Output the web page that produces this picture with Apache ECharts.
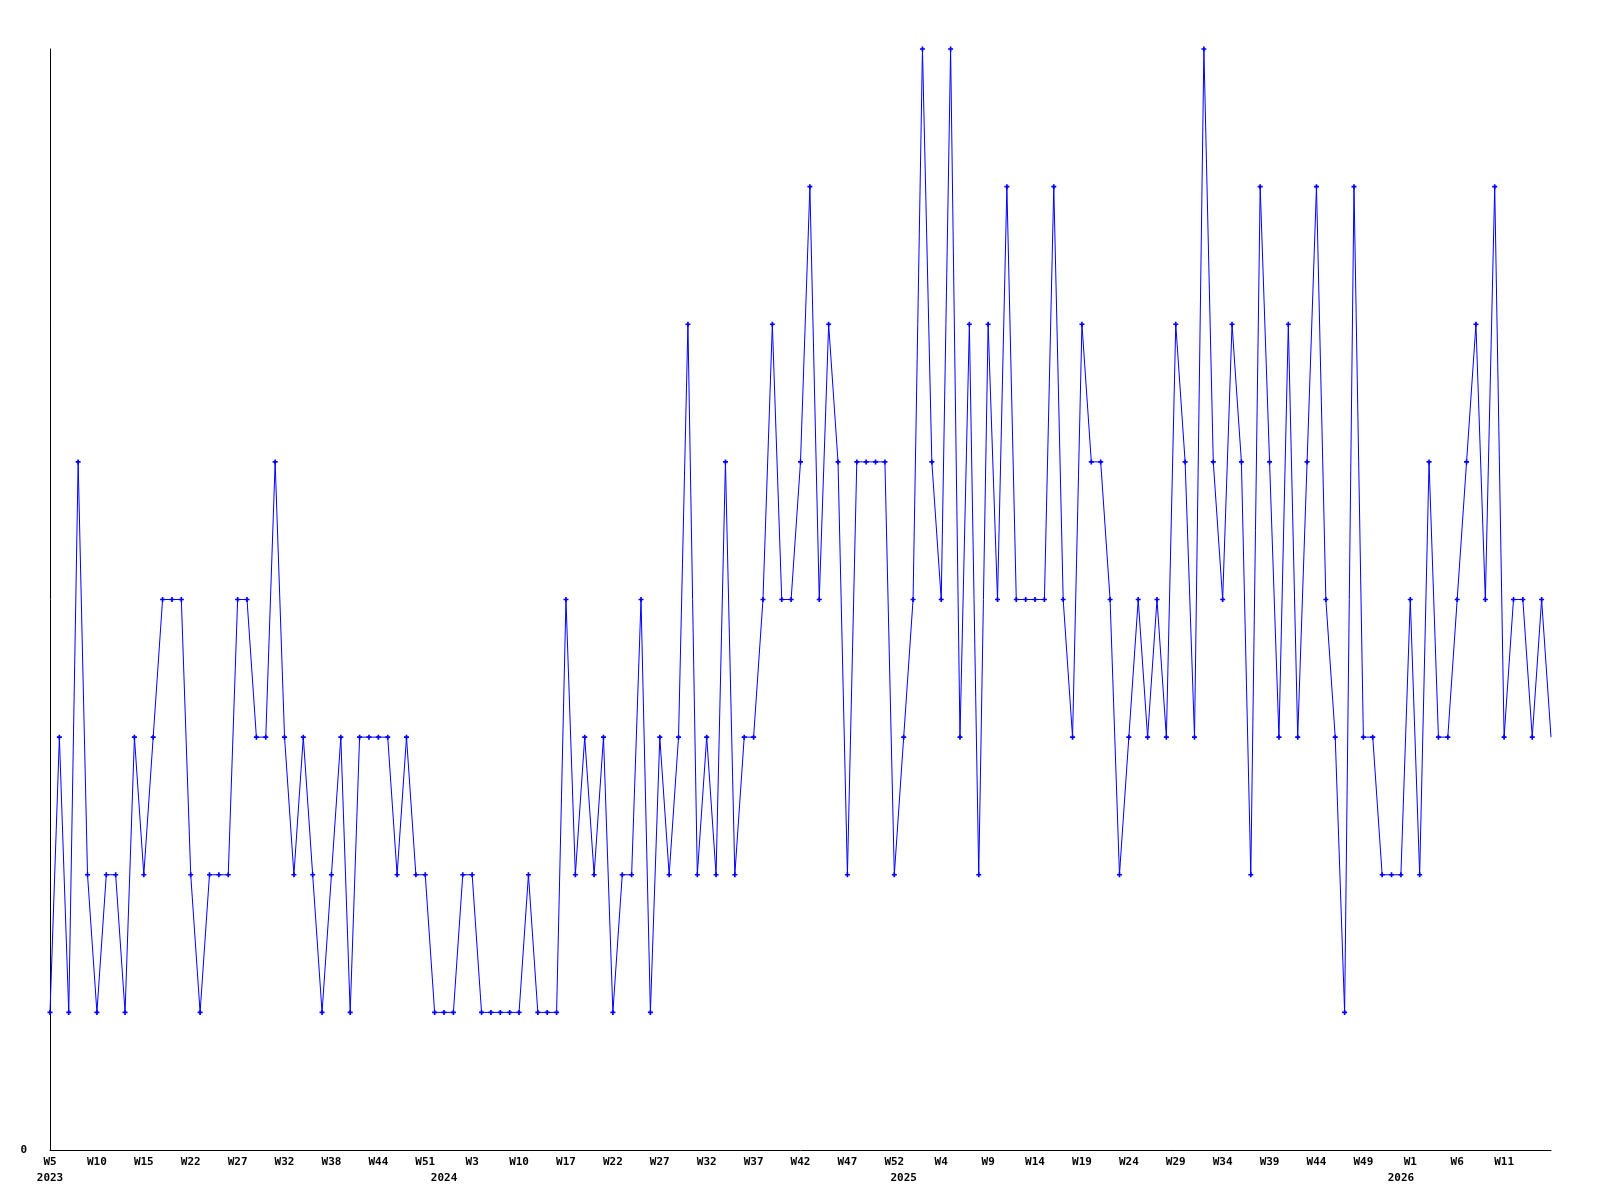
<!DOCTYPE html>
<html>
<head>
<meta charset="utf-8">
<title>weekly count</title>
<script src="https://cdn.jsdelivr.net/npm/echarts@6/dist/echarts.min.js"></script>
<style>
    html, body { margin: 0; padding: 0; background: #ffffff; }
    #chart { width: 1600px; height: 1200px; }
</style>
</head>
<body>
<div id="chart"></div>
<script>
// week of each point (sunday based week numbers, W0 = days before first sunday)
const weeks2023 = ['W5', 'W6', 'W7', 'W8', 'W9', 'W10', 'W11', 'W12', 'W13', 'W14',
    'W15', 'W16', 'W18', 'W19', 'W21', 'W22', 'W23', 'W24', 'W25', 'W26',
    'W27', 'W28', 'W29', 'W30', 'W31', 'W32', 'W33', 'W34', 'W36', 'W37',
    'W38', 'W39', 'W40', 'W42', 'W43', 'W44', 'W45', 'W47', 'W48', 'W50',
    'W51', 'W52']
const weeks2024 = ['W0', 'W1', 'W2', 'W3', 'W4', 'W6', 'W7', 'W9', 'W10', 'W11',
    'W13', 'W14', 'W16', 'W17', 'W18', 'W19', 'W20', 'W21', 'W22', 'W23',
    'W24', 'W25', 'W26', 'W27', 'W28', 'W29', 'W30', 'W31', 'W32', 'W33',
    'W34', 'W35', 'W36', 'W37', 'W38', 'W39', 'W40', 'W41', 'W42', 'W43',
    'W44', 'W45', 'W46', 'W47', 'W48', 'W49', 'W50', 'W51', 'W52']
const weeks2025 = ['W0', 'W1', 'W2', 'W3', 'W4', 'W5', 'W6', 'W7', 'W8', 'W9',
    'W10', 'W11', 'W12', 'W13', 'W14', 'W15', 'W16', 'W17', 'W18', 'W19',
    'W20', 'W21', 'W22', 'W23', 'W24', 'W25', 'W26', 'W27', 'W28', 'W29',
    'W30', 'W31', 'W32', 'W33', 'W34', 'W35', 'W36', 'W37', 'W38', 'W39',
    'W40', 'W41', 'W42', 'W43', 'W44', 'W45', 'W46', 'W47', 'W48', 'W49',
    'W50', 'W51', 'W52']
const weeks2026 = ['W0', 'W1', 'W2', 'W3', 'W4', 'W5', 'W6', 'W7', 'W8', 'W9',
    'W10', 'W11', 'W12', 'W13', 'W14', 'W15', 'W16']
const years = ['2023', '2024', '2025', '2026']

const counts = [1, 3, 1, 5, 2, 1, 2, 2, 1, 3,
    2, 3, 4, 4, 4, 2, 1, 2, 2, 2,
    4, 4, 3, 3, 5, 3, 2, 3, 2, 1,
    2, 3, 1, 3, 3, 3, 3, 2, 3, 2,
    2, 1, 1, 1, 2, 2, 1, 1, 1, 1,
    1, 2, 1, 1, 1, 4, 2, 3, 2, 3,
    1, 2, 2, 4, 1, 3, 2, 3, 6, 2,
    3, 2, 5, 2, 3, 3, 4, 6, 4, 4,
    5, 7, 4, 6, 5, 2, 5, 5, 5, 5,
    2, 3, 4, 8, 5, 4, 8, 3, 6, 2,
    6, 4, 7, 4, 4, 4, 4, 7, 4, 3,
    6, 5, 5, 4, 2, 3, 4, 3, 4, 3,
    6, 5, 3, 8, 5, 4, 6, 5, 2, 7,
    5, 3, 6, 3, 5, 7, 4, 3, 1, 7,
    3, 3, 2, 2, 2, 4, 2, 5, 3, 3,
    4, 5, 6, 4, 7, 3, 4, 4, 3, 4,
    3]

let categories = []
let yearStart = {}
;[weeks2023, weeks2024, weeks2025, weeks2026].forEach((list, k) => {
    yearStart[categories.length] = years[k]
    list.forEach(w => categories.push(years[k] + ' ' + w))
})

const plus = 'path://M0,2H6V4H0Z M2,0H4V6H2Z'
const last = counts.length - 1
// the last week is still running: no marker, no label
let seriesData = counts.map((v, i) => i === last ? { value: v, symbol: 'none' } : v)

let myChart = echarts.init(document.getElementById('chart'))
let option = {
    animation: false,
    backgroundColor: '#FFFFFF',
    grid: {
        left: 50,
        right: 49,
        top: 49,
        bottom: 50
    },
    xAxis: {
        type: 'category',
        data: categories,
        boundaryGap: false,
        axisLine: {
            lineStyle: {
                color: '#000000',
                width: 1
            }
        },
        axisTick: { show: false },
        axisLabel: {
            interval: function (index) {
                if (index === last) return false
                return index % 5 === 0 || yearStart[index] !== undefined
            },
            formatter: function (val, index) {
                let week = index % 5 === 0 ? val.split(' ')[1] : ''
                if (yearStart[index] !== undefined) {
                    return week + '\n' + yearStart[index]
                }
                return week
            },
            color: '#000000',
            fontFamily: 'DejaVu Sans Mono',
            fontWeight: 'bold',
            fontSize: 11,
            lineHeight: 16,
            margin: 4
        },
        splitLine: { show: false }
    },
    yAxis: {
        type: 'value',
        min: 0,
        max: 8,
        interval: 8,
        axisLine: {
            show: true,
            lineStyle: {
                color: '#000000',
                width: 1
            }
        },
        axisTick: { show: false },
        splitLine: { show: false },
        axisLabel: {
            formatter: function (val) {
                return val === 0 ? '0' : ''
            },
            color: '#000000',
            fontFamily: 'DejaVu Sans Mono',
            fontWeight: 'bold',
            fontSize: 11,
            margin: 23
        }
    },
    series: [
        {
            type: 'line',
            data: seriesData,
            symbol: plus,
            symbolSize: 5,
            showSymbol: true,
            showAllSymbol: true,
            itemStyle: {
                color: '#0000FF'
            },
            lineStyle: {
                color: '#0000FF',
                width: 1
            }
        }
    ]
}
myChart.setOption(option)
</script>
</body>
</html>
